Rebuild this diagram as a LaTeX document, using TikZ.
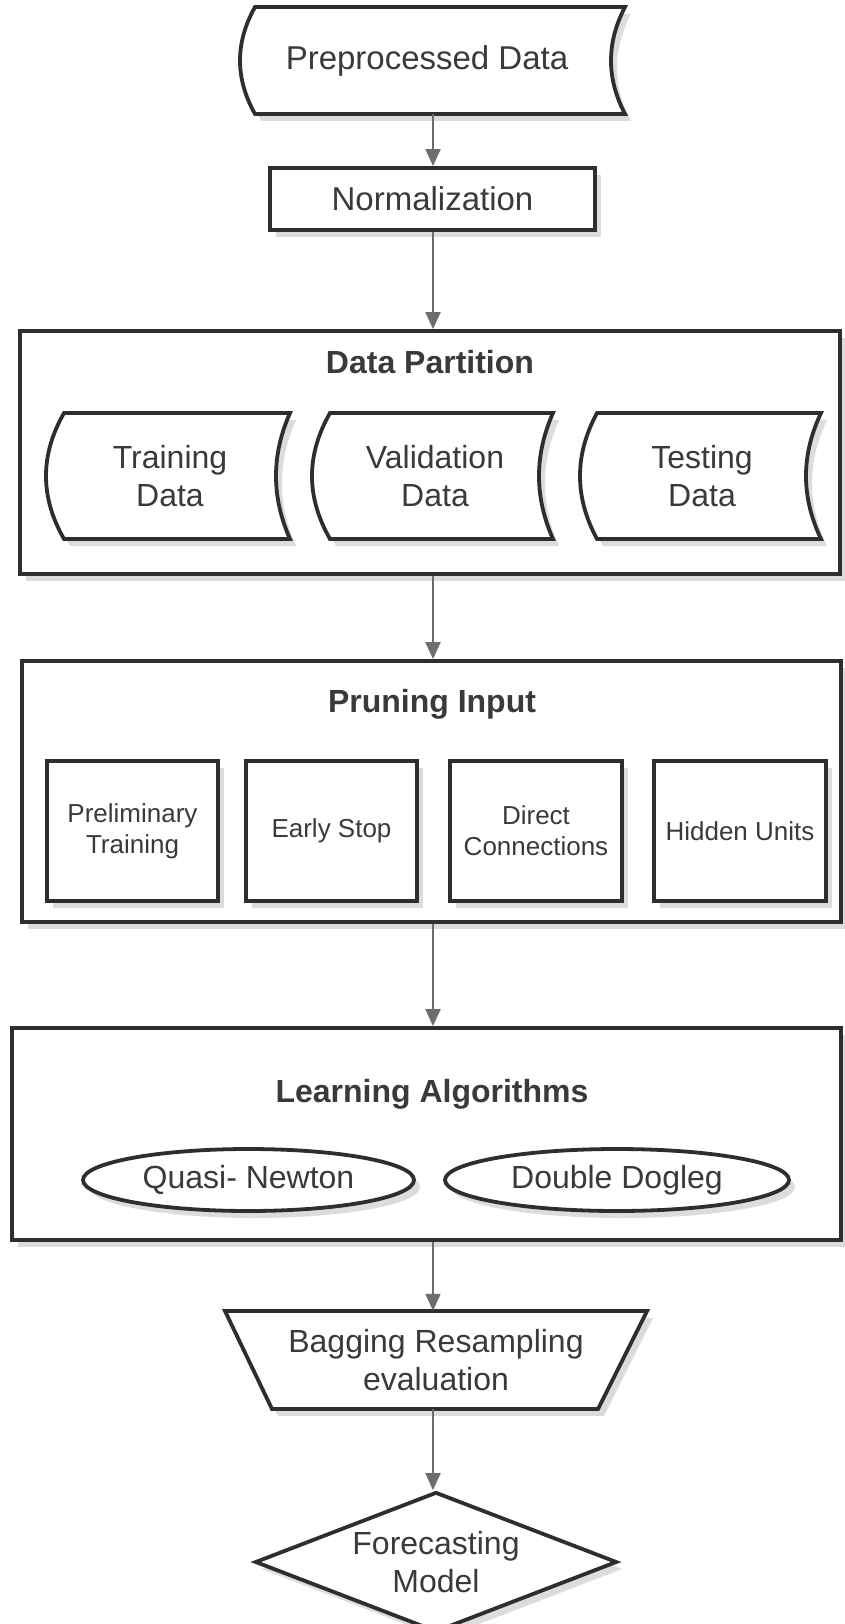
\documentclass[tikz,border=0pt]{standalone}
\usepackage{fontspec}
\setmainfont{Liberation Sans}
\usetikzlibrary{shapes.geometric,arrows.meta,shadows,calc}
\definecolor{ink}{HTML}{2E2E2E}
\definecolor{txt}{HTML}{3A3A3A}
\definecolor{arrowc}{HTML}{6E6E6E}
\definecolor{shade}{HTML}{DCDCDC}
\newcommand\sdshape[6]{% L, R, T, B, left bulge, right bulge
  \pgfmathsetmacro\sdh{(#4-#3)/3}%
  \pgfmathsetmacro\sdcl{4*#5/3}%
  \pgfmathsetmacro\sdcr{4*#6/3}%
  \draw[outline,shad] (#1,#3) -- (#2,#3)
    .. controls ({#2-\sdcr},{#3+\sdh}) and ({#2-\sdcr},{#4-\sdh}) .. (#2,#4)
    -- (#1,#4)
    .. controls ({#1-\sdcl},{#4-\sdh}) and ({#1-\sdcl},{#3+\sdh}) .. cycle;
}
\begin{document}
\begin{tikzpicture}[x=1pt,y=-1pt,
  shad/.style={drop shadow={shadow xshift=6pt,shadow yshift=-7pt,fill=shade,opacity=1}},
  outline/.style={draw=ink,line width=3.8pt,fill=white,line join=miter},
  lbl/.style={text=txt,font=\fontsize{32}{38}\selectfont,align=center,inner sep=0pt},
  biglbl/.style={text=txt,font=\fontsize{33}{40}\selectfont,align=center,inner sep=0pt},
  small/.style={text=txt,font=\fontsize{26}{31}\selectfont,align=center,inner sep=0pt},
  head/.style={text=txt,font=\bfseries\fontsize{32}{38}\selectfont,inner sep=0pt},
  boxnode/.style={outline,shad,inner sep=0pt},
  arr/.style={draw=arrowc,line width=2pt,-{Triangle[width=15pt,length=17pt]}},
]
\fill[white] (0,0) rectangle (844,1624);
\useasboundingbox (0,0) rectangle (844,1624);
\coordinate (ax) at (433,0);

% Preprocessed data
\sdshape{255}{625}{7}{114}{15}{14}
\node[biglbl,minimum width=340pt,minimum height=107pt] (pre) at (427,60.5) {Preprocessed Data};

% Normalization
\node[boxnode,minimum width=325pt,minimum height=62pt,biglbl] (norm) at (432.5,199) {Normalization};

% Data partition
\node[boxnode,minimum width=820pt,minimum height=243pt] (dp) at (430,452.5) {};
\node[head] (dpt) at (430,362) {Data Partition};
\sdshape{64}{290}{413}{539}{18}{14}
\node[lbl,minimum height=126pt] (train) at (170,476) {Training\\Data};
\sdshape{330}{553}{413}{539}{18}{14}
\node[lbl,minimum height=126pt] (valid) at (435,476) {Validation\\Data};
\sdshape{597}{821}{413}{539}{17}{15}
\node[lbl,minimum height=126pt] (test) at (702,476) {Testing\\Data};

% Pruning input
\node[boxnode,minimum width=819pt,minimum height=261pt] (prun) at (431.5,791.5) {};
\node[head] (prt) at (432,704) {Pruning Input};
\node[boxnode,small,minimum width=171pt,minimum height=140pt] (b1) at (132.5,831) {Preliminary\\Training};
\node[boxnode,small,minimum width=171pt,minimum height=140pt] (b2) at (331.5,831) {Early Stop};
\node[boxnode,small,minimum width=172pt,minimum height=140pt] (b3) at (536,831) {Direct\\Connections};
\node[boxnode,small,minimum width=172pt,minimum height=140pt] (b4) at (740,831) {Hidden Units};

% Learning algorithms
\node[boxnode,minimum width=829pt,minimum height=212pt] (learn) at (426.5,1134) {};
\node[head] (lat) at (432,1094) {Learning Algorithms};
\node[ellipse,outline,shad,lbl,minimum width=331pt,minimum height=62pt] (qn) at (248.5,1180) {Quasi- Newton};
\node[ellipse,outline,shad,lbl,minimum width=344pt,minimum height=62pt] (dd) at (617,1180) {Double Dogleg};

% Bagging
\draw[outline,shad] (225,1311) -- (647,1311) -- (598,1409) -- (272,1409) -- cycle;
\node[lbl,minimum width=326pt,minimum height=98pt] (bag) at (436,1360) {Bagging Resampling\\evaluation};

% Forecasting
\node[diamond,aspect=2.6,outline,shad,lbl,minimum width=362pt,minimum height=140pt] (fm) at (436,1562) {Forecasting\\Model};

% arrows
\draw[arr] (pre.south -| ax) -- (norm.north -| ax);
\draw[arr] (norm.south -| ax) -- (dp.north -| ax);
\draw[arr] (dp.south -| ax) -- (prun.north -| ax);
\draw[arr] (prun.south -| ax) -- (learn.north -| ax);
\draw[arr] (learn.south -| ax) -- (bag.north -| ax);
\draw[arr] (bag.south -| ax) -- (fm.north -| ax);
\end{tikzpicture}
\end{document}
